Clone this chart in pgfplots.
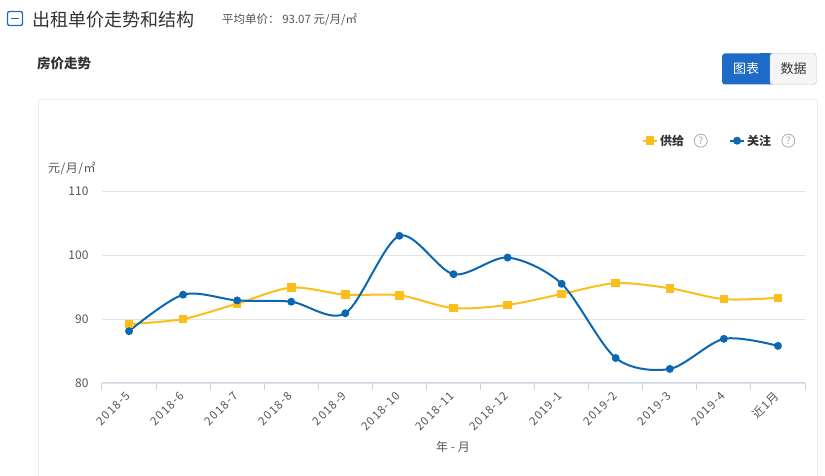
\documentclass[border=0pt]{standalone}
\usepackage{fontspec}
\setmainfont{Noto Sans CJK SC}
\usepackage{pgfplots}
\pgfplotsset{compat=1.18}
\definecolor{cblue}{HTML}{0B67B2}
\definecolor{cyellow}{HTML}{FCBE1A}
\definecolor{btnblue}{HTML}{1D6BC6}
\definecolor{axisc}{HTML}{C9D5E8}
\definecolor{gridc}{HTML}{E3E3E3}
\definecolor{txt}{HTML}{555555}
\definecolor{txtdark}{HTML}{333333}
\definecolor{panelc}{HTML}{EEEEEE}
\definecolor{qc}{HTML}{AAAAAA}
\begin{document}
\begin{tikzpicture}[x=1pt,y=1pt]
\path[use as bounding box] (0,0) rectangle (825,476);
% panel
\draw[draw=panelc, line width=1pt, fill=white] (38,-5) rectangle (817,376);
% header icon
\draw[btnblue, line width=1.3pt, rounded corners=2pt] (7.5,450.5) rectangle (22.5,464.5);
\draw[btnblue, line width=1.5pt] (11,457.5) -- (19,457.5);
\node[anchor=west, inner sep=0pt, text=txtdark, font=\fontsize{18}{20}\selectfont] at (32,456) {出租单价走势和结构};
\node[anchor=west, inner sep=0pt, text=txt, font=\fontsize{11.5}{13}\selectfont] at (222,456) {平均单价： 93.07 元/月/㎡};
\node[anchor=west, inner sep=0pt, text=txtdark, font=\fontsize{13.5}{15}\selectfont\bfseries] at (37,413) {房价走势};
% buttons
\fill[btnblue, rounded corners=3pt] (722,391.5) rectangle (775,422.5);
\fill[btnblue] (760,391.5) rectangle (770,422.5);
\draw[draw=gray!45, fill=gray!8, rounded corners=3pt] (770,391.5) rectangle (816.5,422.5);
\node[text=white, font=\fontsize{13}{15}\selectfont] at (746,407) {图表};
\node[text=txtdark, font=\fontsize{13}{15}\selectfont] at (793.5,407) {数据};
% axis labels
\node[anchor=west, inner sep=0pt, text=txt, font=\fontsize{12}{14}\selectfont\addfontfeature{LetterSpace=4}] at (48,308) {元/月/㎡};
\node[inner sep=0pt, text=txt, font=\fontsize{12}{14}\selectfont] at (453,29) {年 - 月};
% question circles
\draw[qc, line width=0.8pt] (700.7,335.3) circle (6.5);
\node[text=qc, font=\fontsize{10}{11}\selectfont, inner sep=0pt] at (700.7,335.3) {?};
\draw[qc, line width=0.8pt] (788.3,335.3) circle (6.5);
\node[text=qc, font=\fontsize{10}{11}\selectfont, inner sep=0pt] at (788.3,335.3) {?};
\begin{axis}[
  at={(102pt,93pt)}, anchor=south west, scale only axis,
  width=703pt, height=192pt,
  xmin=-0.5, xmax=12.5, ymin=80, ymax=110,
  /pgf/number format/assume math mode=true,
  axis x line*=bottom, axis y line*=left,
  x axis line style={draw=axisc, line width=1pt, -},
  y axis line style={draw=none},
  ytick={80,90,100,110},
  ymajorgrids, grid style={gridc, line width=0.8pt},
  y tick style={draw=none},
  yticklabel style={font=\fontsize{12}{14}\selectfont, text=txt, xshift=-10pt},
  xtick={-0.5,0.5,...,12.5},
  x tick label as interval,
  xticklabels={2018-5,2018-6,2018-7,2018-8,2018-9,2018-10,2018-11,2018-12,2019-1,2019-2,2019-3,2019-4,近1月,},
  x tick style={draw=axisc, line width=1pt},
  xtick align=outside, major tick length=7pt,
  xticklabel style={font=\fontsize{11.5}{13}\selectfont\addfontfeature{LetterSpace=10}, text=txt, rotate=45, anchor=east, yshift=-2pt},
  legend columns=2,
  legend style={at={(0.768,1.262)}, anchor=west, draw=none, fill=none, inner sep=0pt,
    font=\fontsize{12}{14}\selectfont\bfseries, text=txtdark,
    /tikz/every even column/.append style={column sep=43pt}},
  legend image code/.code={\draw[mark repeat=2,mark phase=2] plot coordinates {(0pt,0pt) (7pt,0pt) (14pt,0pt)};},
  clip=false,
]
\addplot[cyellow, line width=2pt, smooth, mark=square*, mark size=3.3pt, mark options={fill=cyellow, draw=cyellow}]
  coordinates {(0,89.2) (1,90.0) (2,92.4) (3,94.9) (4,93.8) (5,93.7) (6,91.7) (7,92.2) (8,93.9) (9,95.6) (10,94.8) (11,93.1) (12,93.3)};
\addlegendentry{供给}
\addplot[cblue, line width=2pt, smooth, mark=*, mark size=2.9pt, mark options={fill=cblue, draw=cblue}]
  coordinates {(0,88.1) (1,93.8) (2,92.9) (3,92.7) (4,90.9) (5,103.0) (6,97.0) (7,99.6) (8,95.5) (9,83.9) (10,82.2) (11,86.9) (12,85.8)};
\addlegendentry{关注}
\end{axis}
\end{tikzpicture}
\end{document}
